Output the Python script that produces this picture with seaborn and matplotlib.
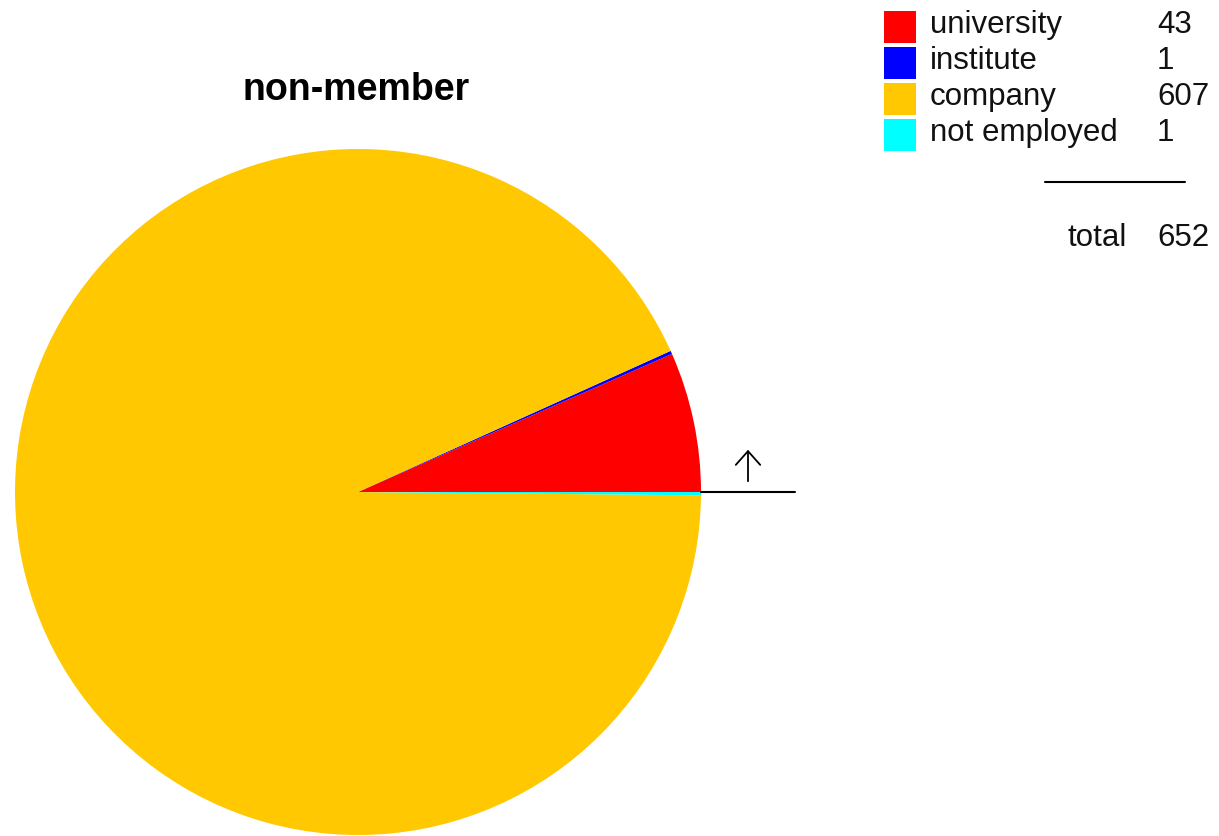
import matplotlib
matplotlib.use("Agg")
import matplotlib.pyplot as plt
import seaborn as sns

categories = ["university", "institute", "company", "not employed"]
counts = [43, 1, 607, 1]
colors = ["#FF0000", "#0000FF", "#FFC800", "#00FFFF"]
title = "non-member"

sns.set_theme(style="white")
plt.rcParams['font.family'] = ['Liberation Sans', 'DejaVu Sans']

W, H = 1219, 836
fig = plt.figure(figsize=(W / 100, H / 100), dpi=100)
ax = fig.add_axes([0, 0, 1, 1])
ax.set_xlim(0, W)
ax.set_ylim(0, H)
ax.axis("off")

def py(y):
    return H - y

# pie
cx, cy, r = 358, 492, 343
ax.pie(counts, colors=colors, startangle=0, counterclock=True,
       center=(cx, py(cy)), radius=r, frame=True,
       wedgeprops=dict(linewidth=0, antialiased=True))
ax.set_xlim(0, W)
ax.set_ylim(0, H)
ax.set_aspect("auto")
ax.axis("off")

# start line and direction arrow
ax.plot([701, 795], [py(492), py(492)], color="black", lw=1.5)
ax.annotate("", xy=(748, py(447)), xytext=(748, py(484)),
            arrowprops=dict(arrowstyle="->,head_length=0.45,head_width=0.4",
                            color="black", lw=1.3, mutation_scale=22))

# title
ax.text(356, py(90), title, ha="center", va="center", fontsize=27,
        fontweight="bold", color="black")

# legend
fs = 22.5
row_y = [25, 61, 97, 133]
for yy, cat, n, col in zip(row_y, categories, counts, colors):
    ax.add_patch(plt.Rectangle((884, py(yy + 18)), 32, 32, color=col, lw=0))
    ax.text(930, py(yy), cat, ha="left", va="center", fontsize=fs, color="#111111")
    ax.text(1157, py(yy), str(n), ha="left", va="center", fontsize=fs, color="#111111")

ax.plot([1045, 1185], [py(182), py(182)], color="black", lw=1.5)
ax.text(1067, py(238), "total", ha="left", va="center", fontsize=fs, color="#111111")
ax.text(1157, py(238), str(sum(counts)), ha="left", va="center", fontsize=fs, color="#111111")

fig.savefig("out.png", dpi=100)
